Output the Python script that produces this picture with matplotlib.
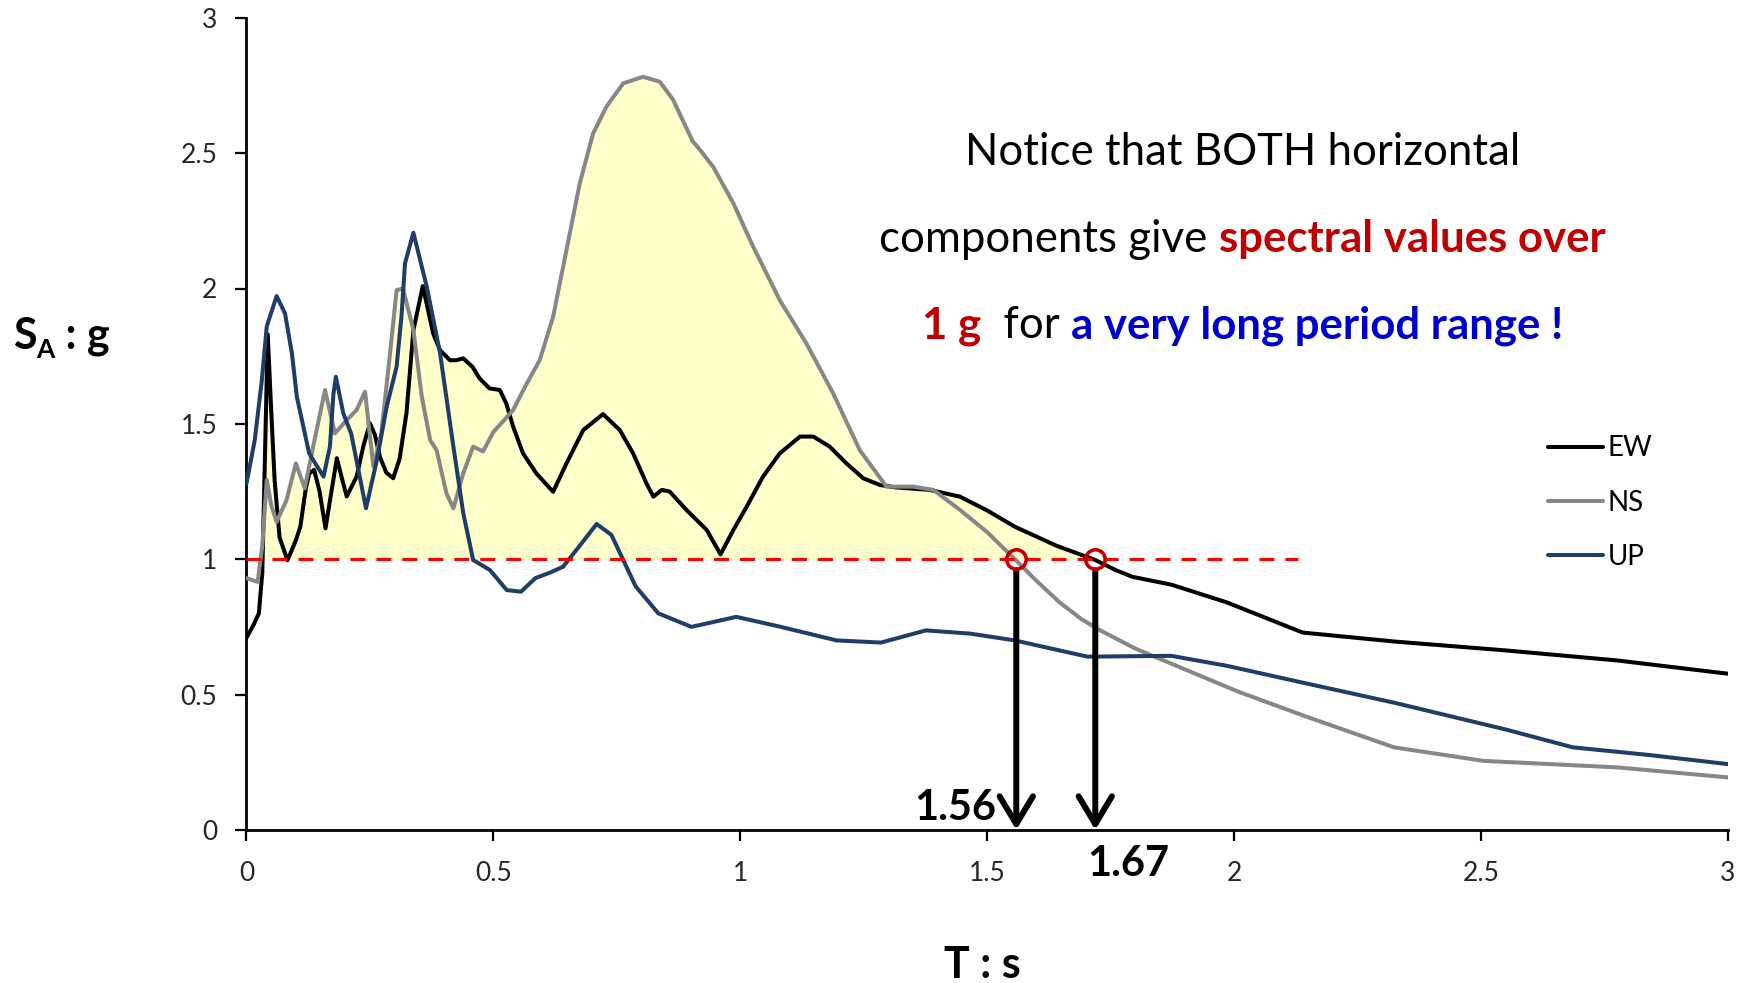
import numpy as np
import matplotlib
matplotlib.use("Agg")
import matplotlib.pyplot as plt

plt.rcParams['font.family'] = ['Lato', 'DejaVu Sans']

# ---------------- data ----------------
ew_T = [0.0, 0.015, 0.025, 0.032, 0.037, 0.043, 0.05, 0.057, 0.067, 0.083,
        0.1, 0.109, 0.12, 0.127, 0.137, 0.148, 0.16, 0.172, 0.183, 0.193,
        0.203, 0.223, 0.237, 0.25, 0.26, 0.27, 0.283, 0.297, 0.31, 0.324,
        0.338, 0.357, 0.378, 0.392, 0.412, 0.425, 0.439, 0.458, 0.472, 0.492,
        0.513, 0.526, 0.540, 0.560, 0.587, 0.621, 0.648, 0.682, 0.722, 0.756,
        0.783, 0.810, 0.824, 0.841, 0.857, 0.891, 0.932, 0.96, 0.986, 1.013,
        1.046, 1.080, 1.121, 1.148, 1.181, 1.215, 1.249, 1.283, 1.316, 1.384,
        1.445, 1.50, 1.556, 1.64, 1.719, 1.76, 1.794, 1.873, 1.986, 2.139,
        2.324, 2.55, 2.776, 3.0]
ew_SA = [0.71, 0.76, 0.80, 0.95, 1.35, 1.83, 1.55, 1.29, 1.08, 0.996,
         1.07, 1.12, 1.26, 1.317, 1.33, 1.25, 1.114, 1.25, 1.373, 1.30,
         1.232, 1.305, 1.42, 1.502, 1.46, 1.379, 1.32, 1.299, 1.37, 1.54,
         1.846, 2.009, 1.834, 1.772, 1.735, 1.735, 1.742, 1.71, 1.668, 1.631,
         1.625, 1.576, 1.49, 1.391, 1.317, 1.249, 1.354, 1.477, 1.536, 1.477,
         1.391, 1.28, 1.231, 1.256, 1.25, 1.182, 1.108, 1.018, 1.108, 1.194,
         1.305, 1.391, 1.453, 1.453, 1.416, 1.354, 1.299, 1.274, 1.265, 1.256,
         1.231, 1.18, 1.12, 1.05, 0.997, 0.96, 0.935, 0.906, 0.84, 0.729,
         0.696, 0.663, 0.626, 0.577]

ns_T = [0.0, 0.0226, 0.032, 0.041, 0.05, 0.061, 0.081, 0.1, 0.118, 0.135,
        0.159, 0.179, 0.203, 0.223, 0.24, 0.257, 0.273, 0.29, 0.304, 0.317,
        0.338, 0.355, 0.372, 0.385, 0.405, 0.419, 0.439, 0.459, 0.479, 0.50,
        0.540, 0.565, 0.594, 0.621, 0.648, 0.675, 0.702, 0.729, 0.763, 0.803,
        0.837, 0.864, 0.888, 0.904, 0.915, 0.945, 0.986, 1.026, 1.080, 1.134,
        1.188, 1.242, 1.296, 1.35, 1.391, 1.445, 1.50, 1.556, 1.60, 1.647,
        1.69, 1.726, 1.8, 1.873, 2.008, 2.144, 2.324, 2.505, 2.776, 3.0]
ns_SA = [0.93, 0.916, 1.05, 1.293, 1.20, 1.138, 1.218, 1.354, 1.262, 1.416,
         1.625, 1.465, 1.514, 1.551, 1.619, 1.342, 1.465, 1.748, 1.994, 2.0,
         1.846, 1.6, 1.44, 1.403, 1.243, 1.188, 1.317, 1.416, 1.398, 1.47,
         1.551, 1.64, 1.736, 1.896, 2.142, 2.389, 2.573, 2.672, 2.758, 2.782,
         2.764, 2.697, 2.604, 2.543, 2.52, 2.45, 2.315, 2.155, 1.957, 1.797,
         1.613, 1.403, 1.268, 1.268, 1.256, 1.182, 1.10, 1.0, 0.92, 0.84,
         0.78, 0.74, 0.67, 0.614, 0.511, 0.42, 0.305, 0.255, 0.231, 0.194]

up_T = [0.0, 0.0167, 0.031, 0.041, 0.061, 0.078, 0.092, 0.102, 0.127, 0.156,
        0.169, 0.176, 0.181, 0.196, 0.212, 0.242, 0.264, 0.284, 0.304, 0.314,
        0.321, 0.338, 0.365, 0.392, 0.419, 0.439, 0.459, 0.493, 0.527, 0.556,
        0.585, 0.614, 0.641, 0.675, 0.709, 0.739, 0.788, 0.834, 0.901, 0.992,
        1.082, 1.195, 1.285, 1.376, 1.466, 1.556, 1.703, 1.873, 1.986, 2.139,
        2.324, 2.55, 2.686, 2.844, 3.0]
up_SA = [1.28, 1.44, 1.66, 1.86, 1.972, 1.908, 1.76, 1.60, 1.39, 1.305,
         1.416, 1.61, 1.674, 1.539, 1.464, 1.188, 1.366, 1.564, 1.711, 1.9,
         2.093, 2.206, 2.007, 1.761, 1.416, 1.17, 0.997, 0.96, 0.886, 0.88,
         0.93, 0.95, 0.972, 1.05, 1.13, 1.09, 0.90, 0.80, 0.75, 0.787,
         0.75, 0.70, 0.692, 0.737, 0.725, 0.70, 0.64, 0.643, 0.606, 0.544,
         0.47, 0.371, 0.305, 0.276, 0.243]

series_names = ["EW", "NS", "UP"]
threshold = 1.0
threshold_end = 2.13
cross_T = [1.559, 1.719]
cross_labels = ["1.56", "1.67"]
x_ticks = [0, 0.5, 1, 1.5, 2, 2.5, 3]
x_ticklabels = ["0", "0.5", "1", "1.5", "2", "2.5", "3"]
y_ticks = [0, 0.5, 1, 1.5, 2, 2.5, 3]
y_ticklabels = ["0", "0.5", "1", "1.5", "2", "2.5", "3"]

# ---------------- figure ----------------
W, H = 1749, 983
fig = plt.figure(figsize=(W / 100, H / 100), dpi=100)
ax = fig.add_axes([246.5 / W, 1 - 829.9 / H, (1727.8 - 246.5) / W, (829.9 - 17.8) / H])

# yellow area above 1 g (envelope of the horizontal components)
grid = np.linspace(0, 3, 3001)
env = np.maximum(np.interp(grid, ew_T, ew_SA), np.interp(grid, ns_T, ns_SA))
ax.fill_between(grid, threshold, env, where=(env >= threshold) & (grid <= cross_T[1] + 0.01),
                interpolate=True, color='#FFFFCC', linewidth=0, zorder=1)

lw = 2.9
kw = dict(solid_joinstyle='round', solid_capstyle='round')
l_ew, = ax.plot(ew_T, ew_SA, color='black', lw=lw, zorder=3, label=series_names[0], **kw)
l_ns, = ax.plot(ns_T, ns_SA, color='#878787', lw=lw, zorder=4, label=series_names[1], **kw)
l_up, = ax.plot(up_T, up_SA, color='#1F3D66', lw=lw, zorder=5, label=series_names[2], **kw)

ax.plot([0, threshold_end], [threshold, threshold], color='#FF0000', lw=2.2,
        dashes=(4.9, 3.6), zorder=6)

ax.plot(cross_T, [threshold] * len(cross_T), linestyle='none', marker='o', markersize=14,
        markerfacecolor='none', markeredgecolor='#C00000', markeredgewidth=2.6, zorder=8)

for xc in cross_T:
    ax.annotate('', xy=(xc, 0), xytext=(xc, threshold),
                arrowprops=dict(arrowstyle='->,head_length=1.0,head_width=0.6',
                                lw=4.3, color='black', shrinkA=8, shrinkB=0,
                                mutation_scale=20),
                zorder=7)

ax.text(1.518, 0.037, cross_labels[0], ha='right', va='baseline', fontsize=30,
        fontweight='bold', color='black', zorder=9)
ax.text(1.703, -0.169, cross_labels[1], ha='left', va='baseline', fontsize=30,
        fontweight='bold', color='black', zorder=9, clip_on=False)

# axes styling
ax.set_xlim(0, 3)
ax.set_ylim(0, 3)
for s in ['top', 'right']:
    ax.spines[s].set_visible(False)
for s in ['left', 'bottom']:
    ax.spines[s].set_linewidth(2.0)
    ax.spines[s].set_color('black')
ax.set_xticks(x_ticks)
ax.set_xticklabels(x_ticklabels)
ax.set_yticks(y_ticks)
ax.set_yticklabels(y_ticklabels)
ax.tick_params(axis='both', direction='out', length=7.6, width=1.6, color='black',
               labelsize=19, labelcolor='#262626')
ax.tick_params(axis='x', pad=15)
ax.tick_params(axis='y', pad=13.5)
ax.set_facecolor('white')

# legend
ax.legend(handles=[l_ew, l_ns, l_up], loc='upper left',
          bbox_to_anchor=(1548 / W, 1 - 435.5 / H), bbox_transform=fig.transFigure,
          frameon=False, fontsize=20, handlelength=1.98, handletextpad=0.18,
          labelspacing=1.02, borderpad=0, borderaxespad=0)

# ---------------- rich text helper ----------------
renderer = fig.canvas.get_renderer()


def advance(s, props):
    t1 = fig.text(0, 0, s + 'I', **props)
    t2 = fig.text(0, 0, 'I', **props)
    w = t1.get_window_extent(renderer).width - t2.get_window_extent(renderer).width
    t1.remove()
    t2.remove()
    return w


def rich_line(pieces, x_px, base_px, align='center'):
    widths = [advance(s, p) for s, p, dy in pieces]
    total = sum(widths)
    x = x_px - total / 2 if align == 'center' else x_px
    for (s, p, dy), w in zip(pieces, widths):
        fig.text(x / W, 1 - (base_px + dy) / H, s, ha='left', va='baseline', **p)
        x += w


fs = 31.5
reg = dict(fontsize=fs, color='black')
red_b = dict(fontsize=fs, color='#C00000', fontweight='bold')
blue_b = dict(fontsize=fs, color='#0000CC', fontweight='bold')

rich_line([("Notice that BOTH horizontal", reg, 0)], 1242.6, 165)
rich_line([("components give ", reg, 0), ("spectral values over", red_b, 0)], 1242.6, 252)
rich_line([("1 g", red_b, 0), ("  for ", reg, 0), ("a very long period range !", blue_b, 0)],
          1242.6, 338)

# axis titles
big_b = dict(fontsize=31, color='black', fontweight='bold')
sub_b = dict(fontsize=19, color='black', fontweight='bold')
rich_line([("S", big_b, 0), ("A", sub_b, 9), (" : g", big_b, 0)], 13, 349, align='left')
fig.text(982 / W, 1 - 978 / H, "T : s", ha='center', va='baseline', **big_b)

fig.savefig("out.png", dpi=100, facecolor='white')
